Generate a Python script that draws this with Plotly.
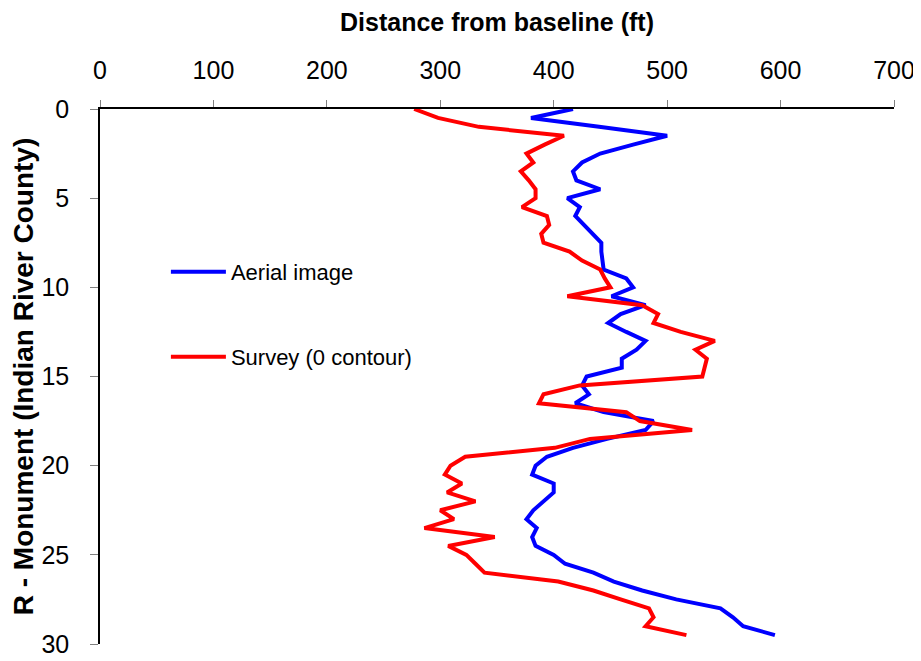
import plotly.graph_objects as go

# R-monument positions
monument = [0, 0.5, 1, 1.5, 2, 2.5, 3, 3.5, 4, 4.5, 5, 5.5, 6, 6.5, 7, 7.5, 8, 8.5, 9, 9.5,
            10, 10.5, 11, 11.5, 12, 12.5, 13, 13.5, 14, 14.5, 15, 15.5, 16, 16.5, 17, 17.5, 18, 18.5, 19, 19.5,
            20, 20.5, 21, 21.5, 22, 22.5, 23, 23.5, 24, 24.5, 25, 25.5, 26, 26.5, 27, 27.5, 28, 28.5, 29, 29.5]

aerial = [417, 380, 440, 500, 470, 441, 425, 417, 420, 441, 412, 423, 419, 427, 435, 442, 442, 443, 444, 464,
          470, 451, 481, 459, 448, 464, 481, 473, 460, 460, 429, 425, 431, 419, 444, 488, 481, 447, 417, 394,
          384, 381, 400, 400, 391, 382, 376, 385, 381, 384, 400, 410, 435, 453, 478, 508, 547, 558, 567, 595]

survey = [277, 298, 334, 409, 392, 376, 382, 371, 378, 384, 384, 372, 394, 396, 389, 391, 414, 425, 441, 445,
          450, 412, 478, 492, 488, 512, 542, 525, 535, 533, 531, 423, 391, 387, 464, 476, 522, 432, 401, 322,
          309, 304, 319, 306, 331, 300, 312, 286, 348, 307, 323, 331, 339, 404, 435, 459, 484, 488, 481, 517]

x_ticks = [0, 100, 200, 300, 400, 500, 600, 700]
y_ticks = [0, 5, 10, 15, 20, 25, 30]

FONT = "Liberation Sans, Arial, sans-serif"

fig = go.Figure()
fig.add_trace(go.Scatter(x=aerial, y=monument, mode="lines", name="Aerial image",
                         line=dict(color="#0000FF", width=4), legend="legend", showlegend=True))
fig.add_trace(go.Scatter(x=survey, y=monument, mode="lines", name="Survey (0 contour)",
                         line=dict(color="#FF0000", width=4), legend="legend2", showlegend=True))

legend_common = dict(xanchor="left", yanchor="middle", bgcolor="rgba(0,0,0,0)",
                     font=dict(family=FONT, size=22, color="black"), itemwidth=55)

# page body has an 8px margin, so the figure is sized 8px smaller on each axis
fig.update_layout(
    width=913, height=653,
    margin=dict(l=92, r=27, t=101, b=17),
    paper_bgcolor="white", plot_bgcolor="white",
    font=dict(family=FONT, color="black"),
    showlegend=True,
    legend=dict(x=0.083, y=0.6953, **legend_common),
    legend2=dict(x=0.083, y=0.5364, **legend_common),
    xaxis=dict(
        side="top", range=[0, 700], tickvals=x_ticks, ticktext=[str(v) for v in x_ticks],
        showline=True, linecolor="black", linewidth=1.5,
        ticks="outside", ticklen=7, tickcolor="#808080", tickwidth=1,
        ticklabelstandoff=11, automargin=False,
        tickfont=dict(family=FONT, size=25, color="black"),
        showgrid=False, zeroline=False,
        title=dict(text="<b>Distance from baseline (ft)</b>", standoff=18,
                   font=dict(family=FONT, size=25, color="black")),
    ),
    yaxis=dict(
        range=[30, 0], tickvals=y_ticks, ticktext=[str(v) for v in y_ticks],
        showline=True, linecolor="black", linewidth=1.5,
        ticks="outside", ticklen=8, tickcolor="#808080", tickwidth=1,
        ticklabelstandoff=16, automargin=False,
        tickfont=dict(family=FONT, size=25, color="black"),
        showgrid=False, zeroline=False,
        title=dict(text="<b>R - Monument (Indian River County)</b>", standoff=0,
                   font=dict(family=FONT, size=28, color="black")),
    ),
)

fig.write_html("out.html")
